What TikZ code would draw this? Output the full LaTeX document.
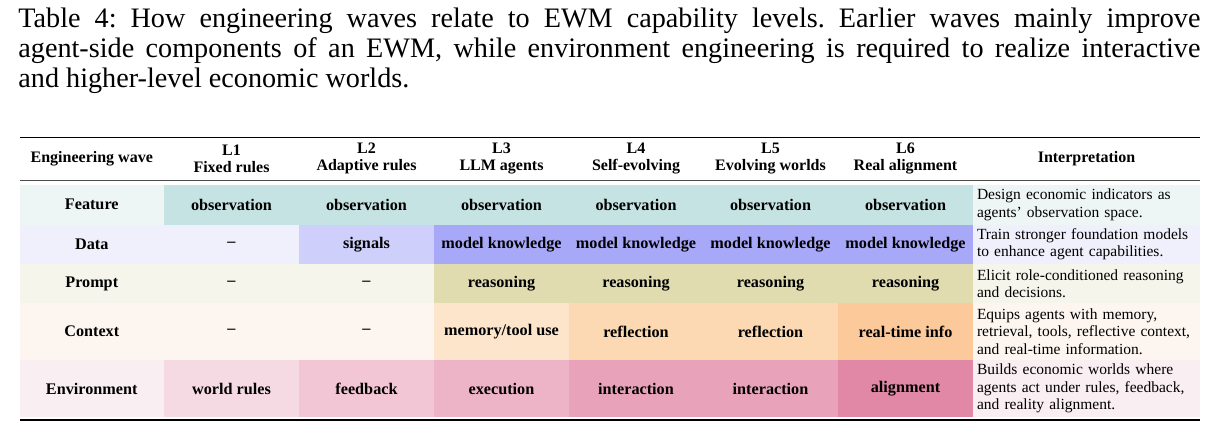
\documentclass[tikz,border=0pt]{standalone}
\usepackage{fontspec}
\setmainfont{Liberation Serif}
\usepackage{xcolor}
\usetikzlibrary{positioning}

\definecolor{featL}{HTML}{EEF6F5}\definecolor{featD}{HTML}{C5E3E2}
\definecolor{dataL}{HTML}{F0F0FC}\definecolor{dataM}{HTML}{CFCFFB}\definecolor{dataD}{HTML}{A8A8F9}
\definecolor{promL}{HTML}{F5F5EC}\definecolor{promD}{HTML}{E0DCB0}
\definecolor{contL}{HTML}{FDF6F0}\definecolor{contA}{HTML}{FDE5CC}\definecolor{contB}{HTML}{FCD8B3}\definecolor{contC}{HTML}{FBC99A}
\definecolor{envL}{HTML}{F9EEF2}\definecolor{envA}{HTML}{F5DAE3}\definecolor{envB}{HTML}{F2C6D4}\definecolor{envC}{HTML}{EDB3C6}\definecolor{envD}{HTML}{E8A2BA}\definecolor{envE}{HTML}{E088A6}

\begin{document}
\hyphenpenalty=10000
\frenchspacing
\begin{tikzpicture}[
    x=0.5pt, y=-0.5pt,
    cell/.style={rectangle, inner sep=0pt, minimum width=67.5pt, align=center, font=\fontsize{8.1}{9.5}\selectfont\bfseries},
    wave/.style={cell, minimum width=72.25pt},
    note/.style={rectangle, inner ysep=0pt, inner xsep=2pt, minimum width=113.5pt, text width=109.5pt, align=left, font=\fontsize{7.75}{8.7}\selectfont},
    head/.style={align=center, font=\fontsize{8}{8.4}\selectfont\bfseries},
    rule/.style={line width=0.7pt},
]
\useasboundingbox (0,0) rectangle (1220,439);

% --- caption ---
\node[anchor=north west, inner sep=0pt, text width=591pt, align=justify,
      font=\fontsize{14.1}{15}\selectfont] (caption) at (18,8)
  {Table 4: How engineering waves relate to EWM capability levels. Earlier waves mainly improve\linebreak agent-side components of an EWM, while environment engineering is required to realize interactive\linebreak and higher-level economic worlds.};

% --- header ---
\node[head] (hW)  at (91.75,158.5) {Engineering wave};
\node[head] (hL1) at (231.5,158.5) {L1\\Fixed rules};
\node[head] (hL2) at (366.5,158.5) {L2\\Adaptive rules};
\node[head] (hL3) at (501.5,158.5) {L3\\LLM agents};
\node[head] (hL4) at (636,158.5)   {L4\\Self-evolving};
\node[head] (hL5) at (770.5,158.5) {L5\\Evolving worlds};
\node[head] (hL6) at (905.5,158.5) {L6\\Real alignment};
\node[head] (hI)  at (1086.5,158.5) {Interpretation};

% --- row 1: feature ---
\node[wave, minimum height=19.75pt, fill=featL] (wF) at (91.75,204.75) {Feature};
\foreach \i/\x in {1/231.5,2/366.5,3/501.5,4/636,5/770.5,6/905.5}
  \node[cell, minimum height=19.75pt, fill=featD] (F\i) at (\x,204.75) {observation};
\node[note, minimum height=19.75pt, fill=featL] (nF) at (1086.5,204.75) {Design economic indicators as agents' observation space.};

% --- row 2: data ---
\node[wave, minimum height=19.75pt, fill=dataL] (wD) at (91.75,244.25) {Data};
\node[cell, minimum height=19.75pt, fill=dataL] (D1) at (231.5,244.25) {--};
\node[cell, minimum height=19.75pt, fill=dataM] (D2) at (366.5,244.25) {signals};
\foreach \i/\x in {3/501.5,4/636,5/770.5,6/905.5}
  \node[cell, minimum height=19.75pt, fill=dataD] (D\i) at (\x,244.25) {model knowledge};
\node[note, minimum height=19.75pt, fill=dataL] (nD) at (1086.5,244.25) {Train stronger foundation models to enhance agent capabilities.};

% --- row 3: prompt ---
\node[wave, minimum height=19.5pt, fill=promL] (wP) at (91.75,283.5) {Prompt};
\node[cell, minimum height=19.5pt, fill=promL] (P1) at (231.5,283.5) {--};
\node[cell, minimum height=19.5pt, fill=promL] (P2) at (366.5,283.5) {--};
\foreach \i/\x in {3/501.5,4/636,5/770.5,6/905.5}
  \node[cell, minimum height=19.5pt, fill=promD] (P\i) at (\x,283.5) {reasoning};
\node[note, minimum height=19.5pt, fill=promL] (nP) at (1086.5,283.5) {Elicit role-conditioned reasoning and decisions.};

% --- row 4: context ---
\node[wave, minimum height=28.5pt, fill=contL] (wC) at (91.75,331.5) {Context};
\node[cell, minimum height=28.5pt, fill=contL] (C1) at (231.5,331.5) {--};
\node[cell, minimum height=28.5pt, fill=contL] (C2) at (366.5,331.5) {--};
\node[cell, minimum height=28.5pt, fill=contA] (C3) at (501.5,331.5) {memory/tool use};
\node[cell, minimum height=28.5pt, fill=contB] (C4) at (636,331.5)   {reflection};
\node[cell, minimum height=28.5pt, fill=contB] (C5) at (770.5,331.5) {reflection};
\node[cell, minimum height=28.5pt, fill=contC] (C6) at (905.5,331.5) {real-time info};
\node[note, minimum height=28.5pt, fill=contL] (nC) at (1086.5,331.5) {Equips agents with memory, retrieval, tools, reflective context, and real-time information.};

% --- row 5: environment ---
\node[wave, minimum height=28.5pt, fill=envL] (wE) at (91.75,388.5) {Environment};
\node[cell, minimum height=28.5pt, fill=envA] (E1) at (231.5,388.5) {world rules};
\node[cell, minimum height=28.5pt, fill=envB] (E2) at (366.5,388.5) {feedback};
\node[cell, minimum height=28.5pt, fill=envC] (E3) at (501.5,388.5) {execution};
\node[cell, minimum height=28.5pt, fill=envD] (E4) at (636,388.5)   {interaction};
\node[cell, minimum height=28.5pt, fill=envD] (E5) at (770.5,388.5) {interaction};
\node[cell, minimum height=28.5pt, fill=envE] (E6) at (905.5,388.5) {alignment};
\node[note, minimum height=28.5pt, fill=envL] (nE) at (1086.5,388.5) {Builds economic worlds where agents act under rules, feedback, and reality alignment.};

% --- rules ---
\coordinate (tl) at (19.5,137.5); \coordinate (tr) at (1200,137.5);
\coordinate (ml) at (19.5,180);   \coordinate (mr) at (1200,180);
\coordinate (bl) at (19.5,420);   \coordinate (br) at (1200,420);
\draw[rule] (tl) -- (tr);
\draw[rule, line width=0.5pt, black!70] (ml) -- (mr);
\draw[rule] (bl) -- (br);
\end{tikzpicture}
\end{document}
